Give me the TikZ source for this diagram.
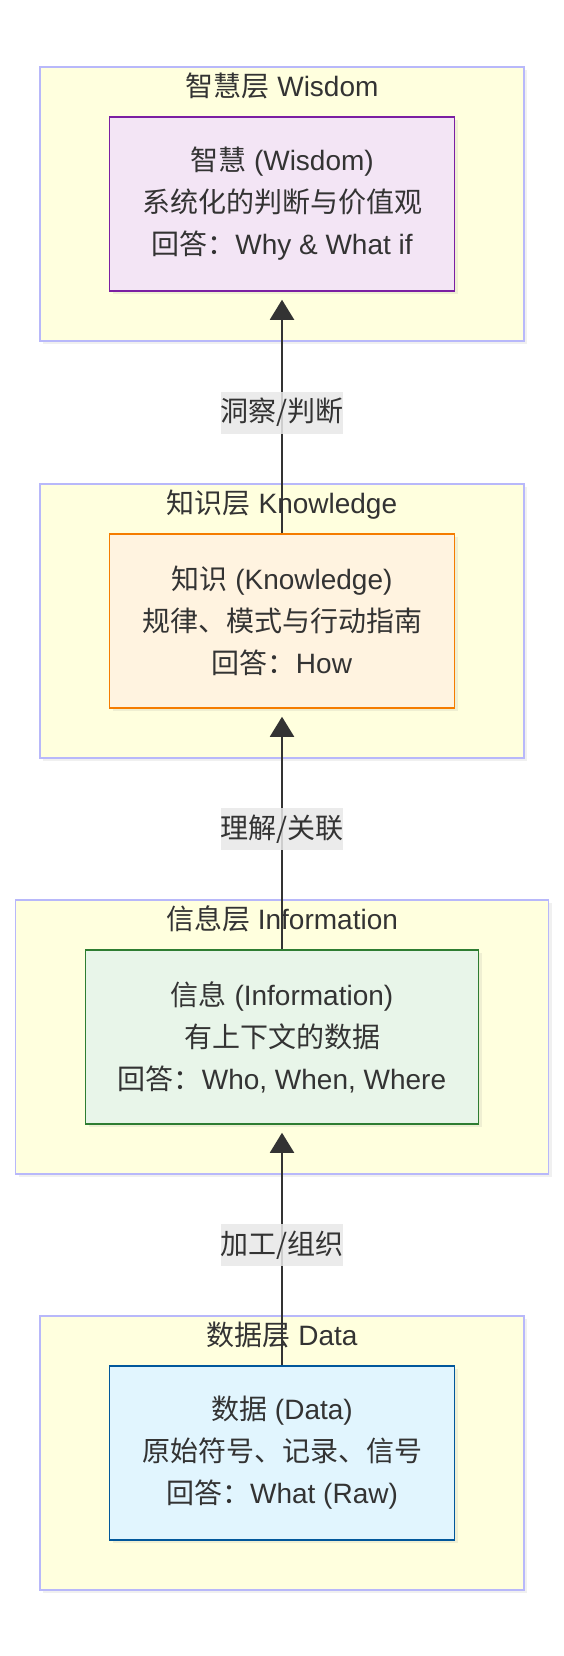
\documentclass[tikz,border=0pt]{standalone}
\usepackage{fontspec}
\setmainfont{Liberation Sans}
\newfontfamily\cjk{Noto Sans CJK SC}
\newcommand{\zh}[1]{{\cjk #1}}
\usetikzlibrary{arrows.meta, positioning, shadows}
\definecolor{Ink}{HTML}{333333}
\definecolor{LayerFill}{HTML}{FFFFDE}
\definecolor{LayerEdge}{HTML}{B8B8FA}
\definecolor{LabelGray}{HTML}{E8E8E8}
\definecolor{DeepPurple}{HTML}{7B1FA2}
\definecolor{LightPurple}{HTML}{F3E5F5}
\definecolor{DeepOrange}{HTML}{F57C00}
\definecolor{LightOrange}{HTML}{FFF3E0}
\definecolor{DeepGreen}{HTML}{2E7D32}
\definecolor{LightGreen}{HTML}{E8F5E9}
\definecolor{DeepBlue}{HTML}{01579B}
\definecolor{LightBlue}{HTML}{E1F5FE}

\begin{document}
\begin{tikzpicture}[
    x=1pt, y=-1pt,
    layer/.style={rectangle, draw=LayerEdge, fill=LayerFill, line width=1.5pt,
                  minimum width=484pt, minimum height=274pt, inner sep=0pt,
                  drop shadow={shadow xshift=3pt, shadow yshift=-3pt, opacity=0.12}},
    layertitle/.style={inner sep=0pt, text=Ink, font=\fontsize{28}{42}\selectfont},
    card/.style={rectangle, line width=1.5pt, minimum width=345pt, minimum height=174pt,
                 align=center, text=Ink, font=\fontsize{28}{42}\selectfont,
                 drop shadow={shadow xshift=3pt, shadow yshift=-3pt, opacity=0.12}},
    flow/.style={draw=Ink, line width=2pt, -{Triangle[width=24pt, length=20pt]},
                 shorten >=8pt},
    tag/.style={fill=LabelGray, fill opacity=0.85, text opacity=1, text=Ink,
                inner sep=0pt, minimum width=121pt, minimum height=42pt,
                font=\fontsize{28}{42}\selectfont}
]
    \useasboundingbox (0,0) rectangle (564,1656);

    % Wisdom layer
    \node[layer] (wisdomL) at (282,204) {};
    \node[layertitle, below=6pt of wisdomL.north] (wisdomT) {\zh{智慧层} Wisdom};
    \node[card, draw=DeepPurple, fill=LightPurple] (wisdom) at (wisdomL.center) {
        \zh{智慧} (Wisdom)\\
        \zh{系统化的判断与价值观}\\
        \zh{回答：}Why \& What if
    };

    % Knowledge layer
    \node[layer] (knowL) at (282,621) {};
    \node[layertitle, below=6pt of knowL.north] (knowT) {\zh{知识层} Knowledge};
    \node[card, draw=DeepOrange, fill=LightOrange] (know) at (knowL.center) {
        \zh{知识} (Knowledge)\\
        \zh{规律、模式与行动指南}\\
        \zh{回答：}How
    };

    % Information layer
    \node[layer, minimum width=533pt] (infoL) at (282,1037) {};
    \node[layertitle, below=6pt of infoL.north] (infoT) {\zh{信息层} Information};
    \node[card, minimum width=393pt, draw=DeepGreen, fill=LightGreen] (info) at (infoL.center) {
        \zh{信息} (Information)\\
        \zh{有上下文的数据}\\
        \zh{回答：}Who, When, Where
    };

    % Data layer
    \node[layer] (dataL) at (282,1453) {};
    \node[layertitle, below=6pt of dataL.north] (dataT) {\zh{数据层} Data};
    \node[card, draw=DeepBlue, fill=LightBlue] (data) at (dataL.center) {
        \zh{数据} (Data)\\
        \zh{原始符号、记录、信号}\\
        \zh{回答：}What (Raw)
    };

    % Transitions
    \draw[flow] (data.north) -- node[tag] {\zh{加工/组织}} (info.south);
    \draw[flow] (info.north) -- node[tag] {\zh{理解/关联}} (know.south);
    \draw[flow] (know.north) -- node[tag] {\zh{洞察/判断}} (wisdom.south);
\end{tikzpicture}
\end{document}
